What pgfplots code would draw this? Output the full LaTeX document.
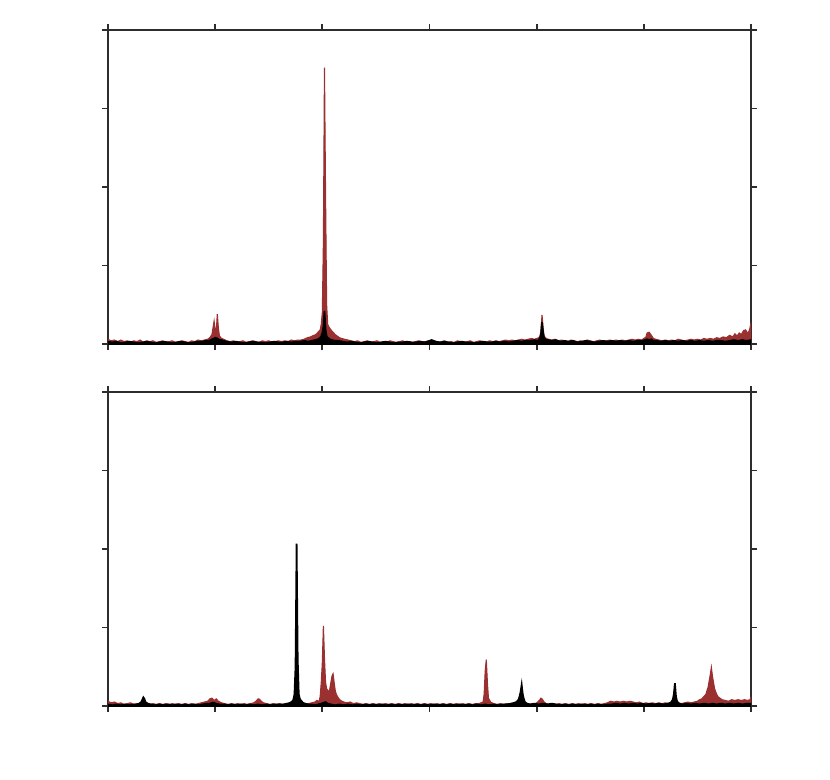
\documentclass[border=0pt]{standalone}
\usepackage{pgfplots}
\pgfplotsset{compat=1.18}
\usepackage{pgfplotstable}
\definecolor{spred}{RGB}{155,48,48}
\definecolor{axgray}{RGB}{45,45,45}

\pgfplotstableread{
x y
0 0.06
3 0.04
6 0.05
9 0.03
12 0.05
15 0.03
18 0.04
21 0.02
24 0.04
27 0.03
30 0.05
33 0.02
36 0.04
39 0.03
42 0.04
45 0.02
48 0.03
51 0.04
54 0.02
57 0.03
60 0.04
63 0.02
66 0.03
69 0.04
72 0.03
75 0.02
78 0.04
81 0.03
84 0.05
87 0.04
90 0.05
93 0.06
95 0.08
97 0.12
99 0.29
100 0.18
101 0.15
102 0.38
103 0.20
104 0.10
106 0.07
108 0.06
111 0.04
114 0.03
117 0.04
120 0.02
123 0.03
126 0.04
129 0.02
132 0.03
135 0.04
138 0.03
141 0.02
144 0.04
147 0.03
150 0.04
153 0.02
156 0.03
159 0.04
162 0.03
165 0.04
168 0.03
171 0.05
174 0.04
177 0.05
180 0.05
183 0.06
186 0.08
189 0.09
192 0.11
194 0.12
196 0.15
198 0.18
199 0.25
200 0.40
201 1.30
202 3.52
203 1.90
204 0.50
205 0.25
206 0.22
208 0.18
210 0.15
212 0.12
214 0.10
216 0.08
218 0.07
221 0.06
224 0.05
227 0.04
230 0.03
233 0.04
236 0.02
239 0.03
242 0.04
245 0.02
248 0.03
251 0.04
254 0.02
257 0.03
260 0.02
263 0.04
266 0.03
269 0.02
272 0.03
275 0.04
278 0.02
281 0.03
284 0.02
287 0.03
290 0.04
293 0.03
296 0.03
299 0.04
302 0.05
305 0.03
308 0.02
311 0.03
314 0.04
317 0.02
320 0.03
323 0.02
326 0.04
329 0.03
332 0.02
335 0.03
338 0.04
341 0.02
344 0.03
347 0.04
350 0.03
353 0.02
356 0.04
359 0.03
362 0.04
365 0.03
368 0.04
371 0.05
374 0.04
377 0.05
380 0.04
383 0.05
386 0.06
389 0.05
392 0.06
395 0.07
398 0.06
400 0.07
402 0.08
403 0.10
404 0.16
405 0.37
406 0.20
407 0.10
409 0.07
411 0.06
414 0.05
417 0.06
420 0.04
423 0.05
426 0.04
429 0.03
432 0.05
435 0.04
438 0.03
441 0.04
444 0.03
447 0.05
450 0.04
453 0.03
456 0.04
459 0.05
462 0.03
465 0.04
468 0.05
471 0.04
474 0.05
477 0.04
480 0.05
483 0.04
486 0.05
489 0.06
492 0.05
495 0.06
498 0.05
500 0.07
502 0.09
503 0.14
505 0.15
507 0.11
509 0.07
511 0.06
514 0.05
517 0.04
520 0.05
523 0.04
526 0.05
529 0.04
532 0.06
535 0.05
538 0.04
541 0.05
544 0.06
547 0.05
550 0.06
553 0.05
556 0.07
559 0.06
562 0.07
565 0.06
568 0.08
571 0.07
574 0.09
577 0.08
580 0.11
583 0.09
585 0.13
587 0.10
589 0.14
591 0.12
593 0.17
595 0.18
597 0.13
598 0.16
599 0.20
600 0.27
}\topred

\pgfplotstableread{
x y
0 0.03
4 0.02
8 0.03
12 0.01
16 0.02
20 0.03
24 0.02
28 0.01
32 0.02
36 0.03
40 0.02
44 0.01
48 0.02
52 0.03
56 0.02
60 0.01
64 0.02
68 0.03
72 0.02
76 0.01
80 0.02
84 0.03
88 0.03
91 0.04
94 0.04
97 0.06
99 0.07
100 0.08
102 0.07
104 0.05
106 0.05
108 0.04
111 0.03
115 0.02
119 0.03
123 0.02
127 0.01
131 0.02
135 0.03
139 0.02
143 0.02
147 0.01
151 0.02
155 0.03
159 0.02
163 0.02
167 0.03
171 0.02
175 0.03
179 0.03
183 0.04
187 0.03
190 0.04
193 0.05
196 0.06
198 0.08
199 0.10
200 0.14
201 0.22
202 0.42
203 0.18
204 0.10
205 0.08
207 0.06
209 0.05
212 0.04
215 0.04
219 0.03
223 0.02
227 0.03
231 0.02
235 0.01
239 0.02
243 0.03
247 0.02
251 0.01
255 0.02
259 0.03
263 0.02
267 0.01
271 0.02
275 0.02
279 0.03
283 0.02
287 0.02
291 0.03
295 0.02
298 0.03
300 0.04
302 0.05
304 0.04
306 0.03
310 0.02
314 0.03
318 0.02
322 0.01
326 0.02
330 0.03
334 0.02
338 0.02
342 0.01
346 0.02
350 0.03
354 0.02
358 0.02
362 0.03
366 0.02
370 0.03
374 0.02
378 0.03
382 0.04
386 0.03
390 0.04
394 0.04
398 0.05
401 0.04
403 0.07
404 0.12
405 0.28
406 0.14
407 0.07
409 0.05
411 0.05
414 0.04
418 0.05
422 0.03
426 0.04
430 0.03
434 0.04
438 0.02
442 0.03
446 0.04
450 0.03
454 0.02
458 0.03
462 0.04
466 0.03
470 0.04
474 0.03
478 0.04
482 0.03
486 0.04
490 0.03
494 0.04
498 0.04
501 0.05
503 0.06
505 0.05
507 0.06
509 0.04
512 0.04
516 0.03
520 0.04
524 0.03
528 0.04
532 0.03
536 0.04
540 0.03
544 0.04
548 0.03
552 0.04
556 0.03
560 0.04
564 0.03
568 0.04
572 0.04
576 0.03
580 0.04
584 0.05
588 0.04
592 0.05
596 0.04
600 0.05
}\topblack

\pgfplotstableread{
x y
0 0.06
3 0.04
6 0.05
9 0.03
12 0.04
15 0.02
18 0.03
21 0.04
24 0.02
27 0.03
30 0.02
33 0.03
36 0.04
39 0.02
42 0.03
45 0.02
48 0.03
51 0.02
54 0.03
57 0.02
60 0.03
63 0.02
66 0.03
69 0.02
72 0.03
75 0.02
78 0.03
81 0.02
84 0.03
87 0.04
90 0.05
93 0.06
95 0.09
97 0.10
99 0.07
101 0.09
103 0.06
106 0.04
109 0.03
112 0.02
115 0.03
118 0.02
121 0.03
124 0.02
127 0.03
130 0.02
133 0.03
136 0.04
138 0.06
140 0.09
141 0.09
143 0.06
145 0.04
148 0.03
151 0.02
154 0.03
157 0.02
160 0.03
163 0.02
166 0.03
169 0.02
172 0.03
175 0.02
178 0.03
181 0.02
184 0.03
187 0.03
190 0.04
193 0.05
195 0.07
197 0.06
198 0.12
199 0.30
200 0.55
201 1.02
202 0.60
203 0.30
204 0.22
205 0.20
206 0.17
207 0.22
208 0.30
209 0.38
210 0.41
211 0.30
212 0.20
213 0.15
215 0.10
217 0.07
220 0.05
223 0.04
226 0.05
229 0.03
232 0.04
235 0.03
238 0.02
241 0.03
244 0.02
247 0.03
250 0.02
253 0.03
256 0.02
259 0.03
262 0.02
265 0.03
268 0.02
271 0.03
274 0.02
277 0.03
280 0.02
283 0.03
286 0.02
289 0.03
292 0.02
295 0.03
298 0.02
301 0.03
304 0.02
307 0.03
310 0.02
313 0.03
316 0.02
319 0.03
322 0.02
325 0.03
328 0.02
331 0.03
334 0.02
337 0.03
340 0.02
343 0.03
346 0.03
348 0.04
350 0.05
351 0.15
352 0.45
353 0.59
354 0.30
355 0.10
357 0.05
360 0.03
363 0.02
366 0.03
369 0.02
372 0.03
375 0.02
378 0.03
381 0.02
384 0.03
387 0.02
390 0.03
393 0.02
396 0.03
399 0.03
401 0.05
403 0.08
404 0.10
405 0.09
407 0.05
409 0.03
412 0.02
415 0.03
418 0.02
421 0.03
424 0.02
427 0.03
430 0.02
433 0.03
436 0.02
439 0.03
442 0.02
445 0.03
448 0.02
451 0.03
454 0.02
457 0.03
460 0.02
463 0.03
466 0.04
469 0.06
472 0.05
475 0.06
478 0.05
481 0.06
484 0.05
487 0.06
490 0.05
493 0.04
496 0.05
499 0.03
502 0.04
505 0.03
508 0.04
511 0.03
514 0.04
517 0.03
520 0.04
523 0.03
526 0.04
529 0.03
532 0.04
535 0.03
538 0.04
541 0.05
544 0.04
547 0.05
550 0.06
552 0.08
554 0.09
556 0.12
558 0.15
559 0.20
560 0.24
561 0.32
562 0.40
563 0.49
564 0.38
565 0.30
566 0.22
567 0.18
569 0.12
571 0.10
573 0.08
576 0.07
579 0.06
582 0.08
585 0.07
588 0.08
591 0.07
594 0.08
597 0.07
599 0.08
600 0.11
}\botred

\pgfplotstableread{
x y
0 0.02
4 0.01
8 0.02
12 0.01
16 0.02
20 0.01
24 0.02
27 0.02
29 0.03
31 0.05
32 0.08
33 0.11
34 0.09
35 0.05
37 0.03
40 0.02
44 0.01
48 0.02
52 0.01
56 0.02
60 0.01
64 0.02
68 0.01
72 0.02
76 0.01
80 0.02
84 0.01
88 0.02
92 0.03
95 0.03
97 0.04
99 0.04
101 0.03
104 0.02
108 0.02
112 0.01
116 0.02
120 0.01
124 0.02
128 0.01
132 0.02
136 0.01
140 0.02
144 0.01
148 0.02
152 0.01
156 0.02
160 0.02
164 0.02
167 0.03
170 0.04
172 0.06
173 0.08
174 0.15
175 0.50
176 2.07
177 0.60
178 0.15
179 0.09
180 0.07
182 0.04
184 0.03
187 0.02
190 0.02
193 0.01
196 0.02
199 0.03
201 0.04
203 0.05
205 0.03
208 0.02
212 0.01
216 0.02
220 0.01
224 0.02
228 0.01
232 0.02
236 0.01
240 0.02
244 0.01
248 0.02
252 0.01
256 0.02
260 0.01
264 0.02
268 0.01
272 0.02
276 0.01
280 0.02
284 0.01
288 0.02
292 0.01
296 0.02
300 0.01
304 0.02
308 0.01
312 0.02
316 0.01
320 0.02
324 0.01
328 0.02
332 0.01
336 0.02
340 0.01
344 0.02
348 0.01
352 0.02
356 0.01
360 0.02
364 0.01
368 0.02
372 0.02
376 0.03
379 0.04
381 0.05
383 0.08
384 0.12
385 0.18
386 0.27
387 0.15
388 0.09
389 0.05
391 0.03
394 0.02
398 0.03
402 0.02
406 0.03
410 0.02
414 0.03
418 0.02
422 0.01
426 0.02
430 0.01
434 0.02
438 0.01
442 0.02
446 0.01
450 0.02
454 0.01
458 0.02
462 0.01
466 0.02
470 0.02
474 0.03
478 0.02
482 0.03
486 0.02
490 0.03
494 0.02
498 0.03
502 0.02
506 0.03
510 0.02
514 0.03
518 0.02
522 0.03
525 0.04
527 0.08
528 0.15
529 0.29
530 0.12
531 0.06
533 0.03
536 0.02
540 0.03
544 0.02
548 0.03
552 0.02
556 0.03
560 0.02
564 0.03
568 0.02
572 0.03
576 0.02
580 0.03
584 0.02
588 0.03
592 0.02
596 0.03
600 0.03
}\botblack

\pgfplotsset{
  specax/.style={
    scale only axis,
    width=257.2pt, height=125.6pt,
    xmin=0, xmax=600, ymin=0, ymax=4,
    xtick={0,100,...,600}, ytick={0,1,2,3,4},
    xticklabels={}, yticklabels={},
    tick align=outside,
    major tick length=2.4pt,
    axis line style={line width=0.7pt, color=axgray},
    every tick/.style={line width=0.7pt, color=axgray},
    clip=true,
  },
  redsp/.style={draw=spred, fill=spred, line width=0.45pt, no markers, sharp plot},
  blksp/.style={draw=black, fill=black, line width=0.7pt, no markers, sharp plot},
}

\begin{document}
\begin{tikzpicture}
\useasboundingbox (0,0) rectangle (332pt,311.6pt);
\begin{axis}[specax, at={(43.2pt,174pt)}, anchor=south west]
\addplot[redsp] table[x=x,y=y] {\topred} \closedcycle;
\addplot[blksp] table[x=x,y=y] {\topblack} \closedcycle;
\end{axis}
\begin{axis}[specax, at={(43.2pt,29.2pt)}, anchor=south west]
\addplot[redsp] table[x=x,y=y] {\botred} \closedcycle;
\addplot[blksp] table[x=x,y=y] {\botblack} \closedcycle;
\end{axis}
\end{tikzpicture}
\end{document}
